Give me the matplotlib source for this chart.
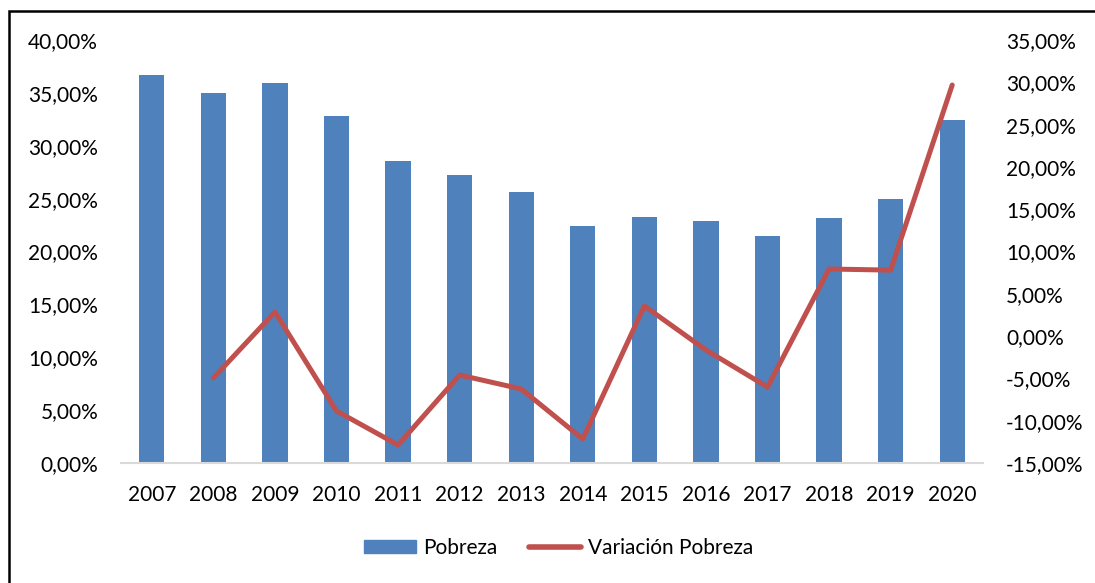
import matplotlib.pyplot as plt
from matplotlib import patches
from matplotlib.ticker import FuncFormatter, MultipleLocator
from matplotlib.lines import Line2D

years = ['2007', '2008', '2009', '2010', '2011', '2012', '2013',
         '2014', '2015', '2016', '2017', '2018', '2019', '2020']
pobreza = [36.69, 34.99, 35.93, 32.81, 28.56, 27.23, 25.63,
           22.41, 23.26, 22.88, 21.47, 23.17, 24.96, 32.43]
# first year has no variation
var_years = years[1:]
variacion = [-4.95, 2.85, -8.85, -12.87, -4.6, -6.25,
             -12.16, 3.56, -1.64, -6.02, 7.93, 7.8, 29.68]

blue = '#4F81BD'
red = '#C0504D'

plt.rcParams['font.family'] = ['Lato', 'DejaVu Sans']
plt.rcParams['font.size'] = 15

fig = plt.figure(figsize=(10.95, 5.83), dpi=100)
ax = fig.add_axes([121 / 1095, 1 - 463 / 583, (983 - 121) / 1095, (463 - 40) / 583])
ax2 = ax.twinx()

x = list(range(len(years)))
ax.bar(x, pobreza, width=0.41, color=blue, zorder=2, label='Pobreza')
ax2.plot(x[1:], variacion, color=red, linewidth=3.6, solid_capstyle='round',
         label='Variación Pobreza')

ax.set_xlim(-0.5, len(years) - 0.5)
ax.set_xticks(x)
ax.set_xticklabels(years)
ax.set_ylim(0, 40)
ax2.set_ylim(-15, 35)
ax.yaxis.set_major_locator(MultipleLocator(5))
ax2.yaxis.set_major_locator(MultipleLocator(5))

fmt = FuncFormatter(lambda v, p: f'{v:.2f}%'.replace('.', ','))
ax.yaxis.set_major_formatter(fmt)
ax2.yaxis.set_major_formatter(fmt)

for a in (ax, ax2):
    for s in a.spines.values():
        s.set_visible(False)
    a.tick_params(length=0)
ax.spines['bottom'].set_visible(True)
ax.spines['bottom'].set_color('#D9D9D9')
ax.spines['bottom'].set_linewidth(1.5)
ax.tick_params(axis='y', pad=16.5)
ax.tick_params(axis='x', pad=16)
ax2.tick_params(axis='y', pad=16.5)

handles = [patches.Patch(color=blue, label='Pobreza'),
           Line2D([], [], color=red, linewidth=4, solid_capstyle='round',
                  label='Variación Pobreza')]
fig.legend(handles=handles, loc='center', bbox_to_anchor=(0.5105, 0.06),
           ncol=2, frameon=False, handlelength=2.5, handleheight=0.6,
           handletextpad=0.35, columnspacing=1.5)

frame = patches.Rectangle((9 / 1095, -0.1), 1.2, 1.1 - 11 / 583,
                          transform=fig.transFigure, fill=False,
                          edgecolor='black', linewidth=1.8)
fig.patches.append(frame)

fig.savefig('out.png', dpi=100)
